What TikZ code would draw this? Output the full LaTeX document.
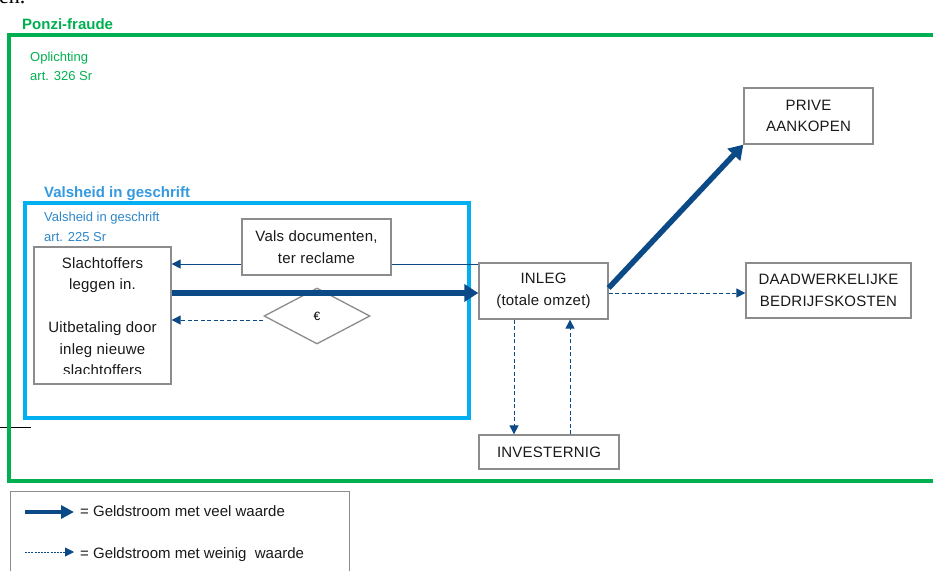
\documentclass[tikz,border=0pt]{standalone}
\usepackage{fontspec}
\setmainfont{Liberation Sans}
\newfontfamily\serifpart{Liberation Serif}
\newfontfamily\boxfont[LetterSpace=1.5]{Liberation Sans}
\usetikzlibrary{shapes.geometric,arrows.meta}
\definecolor{pgreen}{HTML}{00B050}
\definecolor{pcyan}{HTML}{00B0F0}
\definecolor{plabel}{HTML}{3399E0}
\definecolor{psmall}{HTML}{2E86C8}
\definecolor{parrow}{HTML}{0B4A86}
\definecolor{pgray}{HTML}{8C8C8C}
\tikzset{
  boxstyle/.style={draw=pgray, line width=1.3pt, fill=white, inner sep=0pt, align=center,
     font=\boxfont\fontsize{15}{21.5}\selectfont, text=black!90},
  frametext/.style={anchor=base west, inner sep=0pt},
  higharrow/.style={draw=parrow, line width=5.5pt, -{Triangle[length=14pt,width=17pt]}},
  lowarrow/.style={draw=parrow, line width=1pt, dash pattern=on 4pt off 2.5pt, -{Triangle[length=9pt,width=9pt]}},
  solidarrow/.style={draw=parrow, line width=1pt, -{Triangle[length=9pt,width=9pt]}},
}
\begin{document}
\begin{tikzpicture}[x=1pt,y=-1pt]
\useasboundingbox (0,0) rectangle (933,570);
\clip (0,0) rectangle (933,570);
% page fragment
\node[frametext, font=\serifpart\fontsize{22}{22}\selectfont] (frag) at (-1,4) {en.};
\draw[line width=1pt] (0,427) coordinate (ls) -- (31,427) coordinate (le);
% green frame
\draw[pgreen, line width=3.5pt] (9,35) rectangle (945,481);
\node[frametext, text=pgreen, font=\bfseries\fontsize{15}{15}\selectfont] (ponzi) at (22,29) {Ponzi-fraude};
\node[frametext, text=pgreen, font=\fontsize{13}{19}\selectfont, align=left, anchor=north west] (opl) at (30,52) {Oplichting\\art. 326 Sr};
% blue frame
\draw[pcyan, line width=3.5pt] (25,203) rectangle (469,418);
\node[frametext, text=plabel, font=\bfseries\fontsize{15}{15}\selectfont] (vigb) at (44,197) {Valsheid in geschrift};
\node[text=psmall, font=\fontsize{13}{19.5}\selectfont, align=left, anchor=north west, inner sep=0pt] (vigs) at (44,212) {Valsheid in geschrift\\art. 225 Sr};
% boxes
\node[boxstyle, minimum width=137pt, minimum height=137pt] (slacht) at (102.5,315.5) {};
\begin{scope}
\clip (34,247) rectangle (171,373.5);
\node[anchor=north, inner sep=0pt, align=center, font=\boxfont\fontsize{15}{21.5}\selectfont, text=black!90] (slachttext) at (102.5,257) {Slachtoffers\\leggen in.\\[21.5pt]Uitbetaling door\\inleg nieuwe\\slachtoffers};
\end{scope}
\node[boxstyle, minimum width=129pt, minimum height=56pt] (inleg) at (543.5,291) {INLEG\\(totale omzet)};
\node[boxstyle, minimum width=129pt, minimum height=56pt] (prive) at (808.5,116) {PRIVE\\AANKOPEN};
\node[boxstyle, minimum width=165pt, minimum height=55pt] (daad) at (828.5,290.5) {DAADWERKELIJKE\\BEDRIJFSKOSTEN};
\node[boxstyle, minimum width=140pt, minimum height=34pt] (invest) at (549,452) {INVESTERNIG};
\node[diamond, draw=pgray, line width=1.3pt, fill=white, minimum width=106pt, minimum height=56pt, inner sep=0pt, font=\fontsize{12}{12}\selectfont] (euro) at (317,316) {€};
% connectors
\draw[solidarrow] (inleg.west |- 0,264) -- (slacht.east |- 0,264);
\draw[higharrow] (slacht.east |- 0,293) -- (inleg.west |- 0,293);
\draw[lowarrow] (euro.west |- 0,320) -- (slacht.east |- 0,320);
\draw[higharrow] (inleg.east |- 0,288) -- (prive.south west);
\draw[lowarrow] (inleg.east |- 0,293) -- (daad.west |- 0,293);
\draw[lowarrow] (inleg.south -| 514,0) -- (invest.north -| 514,0);
\draw[lowarrow] (invest.north -| 570,0) -- (inleg.south -| 570,0);
% vals documenten box on top of the thin line
\node[boxstyle, minimum width=149pt, minimum height=56pt] (vals) at (316.5,247) {Vals documenten,\\ter reclame};
% legend
\draw[pgray, line width=1pt] (10,491) rectangle (349,590);
\coordinate (l1s) at (25,512); \coordinate (l1e) at (74,512);
\coordinate (l2s) at (25,552); \coordinate (l2e) at (74,552);
\draw[higharrow, line width=4.5pt, -{Triangle[length=13pt,width=13pt]}] (l1s) -- (l1e);
\draw[lowarrow, line width=0.8pt, dash pattern=on 2pt off 1.2pt] (l2s) -- (l2e);
\node[frametext, font=\fontsize{15}{15}\selectfont, text=black!90] (leg1) at (80,516) {= Geldstroom met veel waarde};
\node[frametext, font=\fontsize{15}{15}\selectfont, text=black!90] (leg2) at (80,558) {= Geldstroom met weinig\ \ waarde};
\end{tikzpicture}
\end{document}
